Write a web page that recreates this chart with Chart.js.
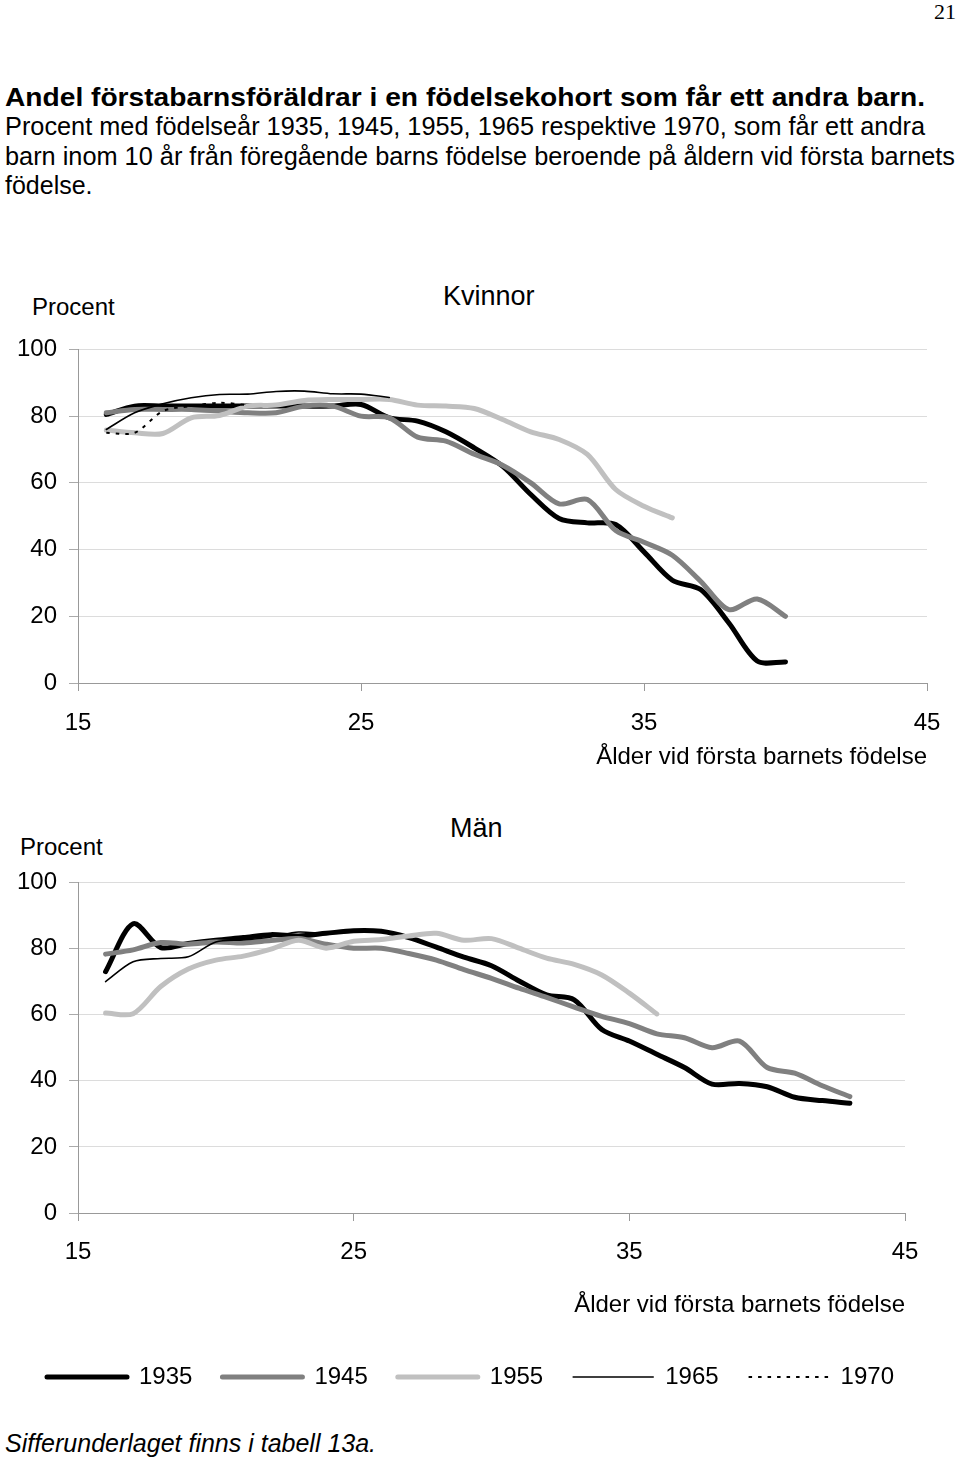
<!DOCTYPE html>
<html lang="sv">
<head>
<meta charset="utf-8">
<script src="https://cdn.jsdelivr.net/npm/chart.js@4.4.1/dist/chart.umd.min.js"></script>
<style>
    body { margin: 0; width: 960px; height: 1459px; position: relative; background: #fff; color: #000;
           font-family: "Liberation Sans", Arial, sans-serif; overflow: hidden; }
    .t { position: absolute; white-space: nowrap; line-height: 1; transform-origin: left center; }
    canvas { position: absolute; }
</style>
</head>
<body>
<div class="t" style="left:934px;top:1px;font-family:'Liberation Serif',serif;font-size:22px">21</div>
<div class="t" data-w="920" style="left:5px;top:84px;font-size:26px;font-weight:bold">Andel förstabarnsföräldrar i en födelsekohort som får ett andra barn.</div>
<div class="t" data-w="920" style="left:5px;top:114px;font-size:25px">Procent med födelseår 1935, 1945, 1955, 1965 respektive 1970, som får ett andra</div>
<div class="t" data-w="950" style="left:5px;top:144px;font-size:25px">barn inom 10 år från föregående barns födelse beroende på åldern vid första barnets</div>
<div class="t" style="left:5px;top:173px;font-size:25px">födelse.</div>

<div class="t" style="left:32px;top:295px;font-size:24px">Procent</div>
<div class="t" style="left:443px;top:283px;font-size:27px">Kvinnor</div>
<canvas id="chartKvinnor" width="960" height="449" style="left:0;top:323px"></canvas>

<div class="t" style="left:20px;top:835px;font-size:24px">Procent</div>
<div class="t" style="left:450px;top:815px;font-size:27px">Män</div>
<canvas id="chartMan" width="979" height="543" style="left:-19px;top:856px"></canvas>

<div class="t" style="left:5px;top:1431px;font-size:25px;font-style:italic">Sifferunderlaget finns i tabell 13a.</div>

<script>
// Ålder vid första barnets födelse
const ages = [16, 17, 18, 19, 20, 21, 22, 23, 24, 25, 26, 27, 28, 29, 30, 31, 32, 33, 34, 35, 36, 37, 38, 39, 40, 41, 42, 43];
const cohorts = ['1935', '1945', '1955', '1965', '1970'];
const xTicks = [15, 25, 35, 45];
const yTicks = [0, 20, 40, 60, 80, 100];

// Kvinnor
const kv1935 = [80.5, 83, 83, 83, 83, 83, 83, 83, 83, 83.5, 79.5, 78.5, 75.3, 70.5, 65, 56.5, 49.3, 48, 47.5, 39.3, 30.8, 28, 18, 6.6, 6.3];
const kv1945 = [81, 82, 82, 82, 81.5, 81, 81, 83, 83, 80, 79.5, 73.7, 72.5, 68.6, 65.3, 60, 53.7, 55, 45.7, 42.2, 38.3, 30.5, 22, 25.2, 20];
const kv1955 = [75.8, 75, 74.8, 79.5, 80.2, 83, 83.3, 84.7, 85, 85, 85, 83.3, 83, 82.3, 79, 75.3, 73, 68.5, 58, 53, 49.5];
const kv1965 = [76, 81, 83.7, 85.5, 86.5, 86.6, 87.4, 87.5, 86.7, 86.6, 85.6];
const kv1970 = [75, 75, 81.5, 83, 84, 83.3];

// Män
const man1935 = [73, 87.5, 80.3, 81.5, 82.5, 83.3, 84.2, 83.8, 84.6, 85.4, 85.2, 83.3, 80.4, 77.4, 74.8, 70.2, 66, 64.5, 55.5, 52, 48, 44, 39, 39.2, 38.2, 35, 34, 33.2];
const man1945 = [78.3, 79.6, 81.8, 81.3, 82, 81.7, 82.4, 83, 81.3, 80.1, 80.1, 78.5, 76.5, 73.6, 71, 68, 65.2, 62.3, 59.5, 57.3, 54.2, 53, 50, 52, 44, 42.3, 38.5, 35.2];
const man1955 = [60.5, 60.3, 68.5, 73.8, 76.5, 77.7, 79.8, 82.5, 80.1, 82.2, 82.7, 83.8, 84.6, 82.5, 83, 80.1, 77.1, 75.2, 72, 66.5, 60.2];
const man1965 = [70, 76, 77, 77.5, 82, 82.6, 83.5, 85, 84.5, 85];
const man1970 = [];

const lineColors = ['#000000', '#808080', '#c0c0c0', '#000000', '#000000'];
const lineWidths = [5, 5, 5, 1.6, 2];
const lineDashes = [[], [], [], [], [3.5, 6]];
const lineCaps = ['round', 'round', 'round', 'round', 'butt'];

Chart.defaults.font.family = '"Liberation Sans", Arial, sans-serif';
Chart.defaults.color = '#000';

// fit the header lines to the width they have in the original
document.querySelectorAll('[data-w]').forEach(el => {
    const w = el.getBoundingClientRect().width;
    el.style.transform = `scaleX(${el.dataset.w / w})`;
});

const toPoints = (values) => values.map((v, i) => ({ x: ages[i], y: v }));

function makeDatasets(seriesList) {
    return seriesList.map((values, i) => ({
        label: cohorts[i],
        data: toPoints(values),
        borderColor: lineColors[i],
        backgroundColor: lineColors[i],
        borderWidth: lineWidths[i],
        borderDash: lineDashes[i],
        borderCapStyle: lineCaps[i],
        borderJoinStyle: 'round',
        pointRadius: 0,
        pointHoverRadius: 0,
        tension: 0.3,
        fill: false,
        order: cohorts.length - i
    }));
}

// yWidth / rightWidth / xHeight pin the plot area to the same place as in the original
function makeScales(yWidth, rightWidth, xHeight, tickPad, titlePad) {
    return {
        x: {
            type: 'linear',
            min: xTicks[0],
            max: xTicks[xTicks.length - 1],
            afterBuildTicks: (scale) => { scale.ticks = xTicks.map(v => ({ value: v })); },
            ticks: { font: { size: 24 }, color: '#000', padding: tickPad, maxRotation: 0 },
            grid: { drawOnChartArea: false, drawTicks: true, tickLength: 8, tickColor: '#999' },
            border: { color: '#999', width: 1 },
            title: {
                display: true,
                text: 'Ålder vid första barnets födelse',
                align: 'end',
                font: { size: 24 },
                color: '#000',
                padding: { top: 0, bottom: titlePad }
            },
            afterFit: (scale) => { scale.height = xHeight; }
        },
        y: {
            min: 0,
            max: 100,
            afterBuildTicks: (scale) => { scale.ticks = yTicks.map(v => ({ value: v })); },
            ticks: { font: { size: 24 }, color: '#000', padding: 12 },
            grid: { color: '#dcdcdc', tickColor: '#aaa', tickLength: 9, lineWidth: 1 },
            border: { color: '#999', width: 1 },
            afterFit: (scale) => { scale.width = yWidth; }
        },
        // empty right-hand axis, only keeps space free on the right
        yRight: {
            position: 'right',
            min: 0,
            max: 100,
            ticks: { display: false },
            grid: { display: false },
            border: { display: false },
            afterFit: (scale) => { scale.width = rightWidth; }
        }
    };
}

new Chart(document.getElementById('chartKvinnor'), {
    type: 'line',
    data: { datasets: makeDatasets([kv1935, kv1945, kv1955, kv1965, kv1970]) },
    options: {
        responsive: false,
        animation: false,
        layout: { padding: 0 },
        scales: makeScales(78, 33, 89, 18, 0),
        plugins: { legend: { display: false }, tooltip: { enabled: false } }
    }
});

new Chart(document.getElementById('chartMan'), {
    type: 'line',
    data: { datasets: makeDatasets([man1935, man1945, man1955, man1965, man1970]) },
    options: {
        responsive: false,
        animation: false,
        layout: { padding: 0 },
        scales: makeScales(97, 55, 122, 17, 15),
        plugins: {
            tooltip: { enabled: false },
            legend: {
                display: true,
                position: 'bottom',
                labels: {
                    usePointStyle: true,
                    pointStyleWidth: 80,
                    padding: 30,
                    font: { size: 24 },
                    color: '#000',
                    generateLabels: (chart) => chart.data.datasets.map((ds, i) => ({
                        text: ds.label,
                        datasetIndex: i,
                        pointStyle: 'line',
                        strokeStyle: ds.borderColor,
                        fillStyle: ds.borderColor,
                        lineWidth: ds.borderWidth,
                        lineDash: ds.borderDash,
                        lineCap: ds.borderCapStyle,
                        hidden: false
                    }))
                }
            }
        }
    }
});
</script>
</body>
</html>
